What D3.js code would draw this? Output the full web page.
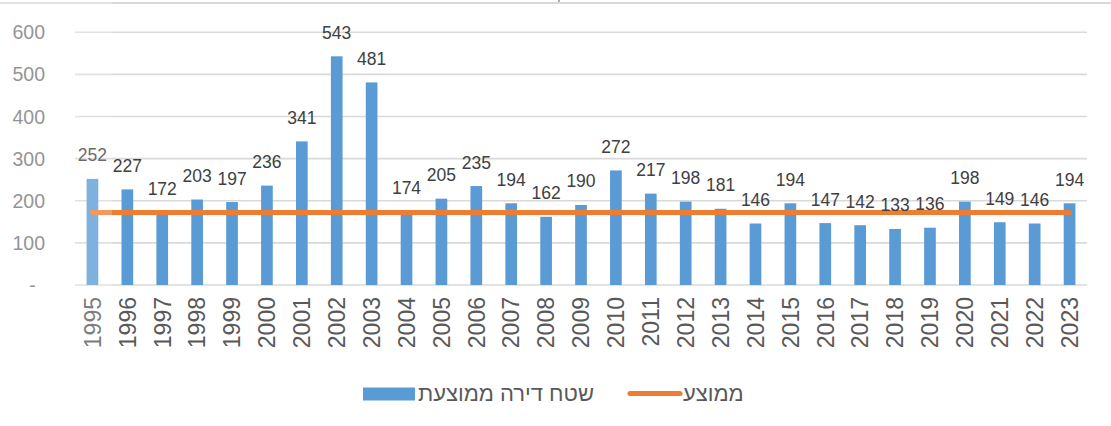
<!DOCTYPE html>
<html>
<head>
<meta charset="utf-8">
<script src="https://cdn.jsdelivr.net/npm/d3@7"></script>
<style>
  html, body { margin: 0; padding: 0; background: #fff; }
  svg { display: block; }
</style>
</head>
<body>
<svg id="chart" width="1111" height="426"></svg>
<script>
const years = ["1995","1996","1997","1998","1999","2000","2001","2002","2003","2004","2005","2006","2007","2008","2009","2010","2011","2012","2013","2014","2015","2016","2017","2018","2019","2020","2021","2022","2023"];
const areaValues = [252,227,172,203,197,236,341,543,481,174,205,235,194,162,190,272,217,198,181,146,194,147,142,133,136,198,149,146,194];
const averageValues = [172,172,172,172,172,172,172,172,172,172,172,172,172,172,172,172,172,172,172,172,172,172,172,172,172,172,172,172,172];
const yTicks = [0,100,200,300,400,500,600];
const seriesNames = ["שטח דירה ממוצעת", "ממוצע"];

const svg = d3.select("#chart");
const W = 1111, H = 426;
const plotLeft = 75, plotRight = 1087, plotTop = 32.3, plotBottom = 285;

const x = d3.scaleBand().domain(years).range([plotLeft, plotRight]).paddingInner(0.665).paddingOuter(0.3325);
const y = d3.scaleLinear().domain([0, 600]).range([plotBottom, plotTop]);

// top border
svg.append("line").attr("x1", 0).attr("x2", W).attr("y1", 3).attr("y2", 3)
  .attr("stroke", "#d9d9d9").attr("stroke-width", 2);
svg.append("line").attr("x1", 559).attr("x2", 559).attr("y1", 0).attr("y2", 2)
  .attr("stroke", "#777").attr("stroke-width", 1.2);

// gridlines
svg.append("g").selectAll("line").data(yTicks).join("line")
  .attr("x1", plotLeft).attr("x2", plotRight)
  .attr("y1", d => y(d)).attr("y2", d => y(d))
  .attr("stroke", "#d9d9d9").attr("stroke-width", 1.6);

// y labels
svg.append("g").selectAll("text").data(yTicks).join("text")
  .attr("x", d => d === 0 ? 32.5 : 45)
  .attr("y", d => y(d))
  .attr("dy", "0.36em")
  .attr("text-anchor", d => d === 0 ? "middle" : "end")
  .attr("font-family", "Liberation Sans, Arial, sans-serif")
  .attr("font-size", 19.5)
  .attr("fill", "#777")
  .text(d => d === 0 ? "-" : d3.format("d")(d));

// bars
svg.append("g").selectAll("rect").data(areaValues).join("rect")
  .attr("x", (d, i) => x(years[i]))
  .attr("width", x.bandwidth())
  .attr("y", d => y(d))
  .attr("height", d => y(0) - y(d))
  .attr("fill", "#5b9bd5");

// average line
const line = d3.line().x((d, i) => x(years[i]) + x.bandwidth() / 2).y(d => y(d));
svg.append("path").datum(averageValues)
  .attr("d", line)
  .attr("fill", "none")
  .attr("stroke", "#ed7d31")
  .attr("stroke-width", 5)
  .attr("stroke-linecap", "round");

// data labels
svg.append("g").selectAll("text").data(areaValues).join("text")
  .attr("x", (d, i) => x(years[i]) + x.bandwidth() / 2)
  .attr("y", d => y(d) - 17.5)
  .attr("text-anchor", "middle")
  .attr("font-family", "Liberation Sans, Arial, sans-serif")
  .attr("font-size", 17.5)
  .attr("fill", "#404040")
  .text(d => d);

// x labels (rotated)
svg.append("g").selectAll("text").data(years).join("text")
  .attr("transform", d => `translate(${x(d) + x.bandwidth() / 2},297) rotate(-90)`)
  .attr("dy", "0.36em")
  .attr("text-anchor", "end")
  .attr("font-family", "Liberation Sans, Arial, sans-serif")
  .attr("font-size", 23)
  .attr("fill", "#595959")
  .text(d => d);

// faded overlay on first column
svg.append("rect").attr("x", 0).attr("y", 0).attr("width", 112).attr("height", 360)
  .attr("fill", "#ffffff").attr("opacity", 0.22);

// legend
const lg = svg.append("g");
lg.append("rect").attr("x", 363).attr("y", 387.5).attr("width", 52).attr("height", 13).attr("fill", "#5b9bd5");
lg.append("text").attr("x", 418).attr("y", 401)
  .attr("font-family", "Liberation Sans, Arial, sans-serif").attr("font-size", 22)
  .attr("fill", "#595959").text(seriesNames[0]);
lg.append("line").attr("x1", 630).attr("x2", 680).attr("y1", 393.5).attr("y2", 393.5)
  .attr("stroke", "#ed7d31").attr("stroke-width", 5).attr("stroke-linecap", "round");
lg.append("text").attr("x", 683).attr("y", 401)
  .attr("font-family", "Liberation Sans, Arial, sans-serif").attr("font-size", 22)
  .attr("fill", "#595959").text(seriesNames[1]);
</script>
</body>
</html>
